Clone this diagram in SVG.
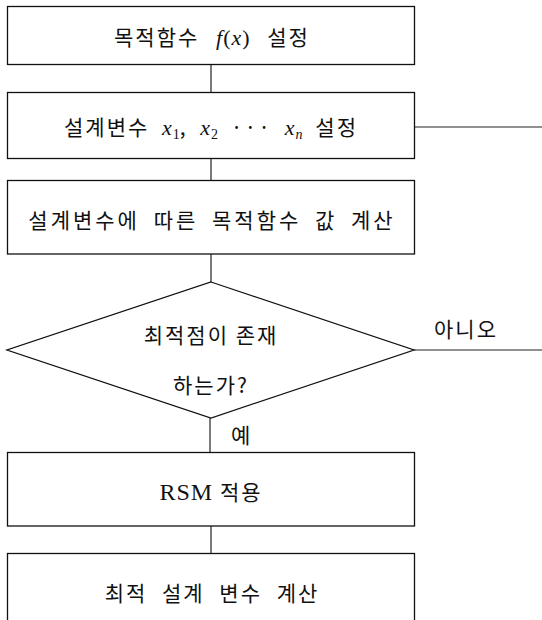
<svg xmlns="http://www.w3.org/2000/svg" width="542" height="620" viewBox="0 0 542 620">
<style>
.box{fill:#fff;stroke:#111;stroke-width:1.3}
.ln{stroke:#222;stroke-width:1.2;fill:none}
.t{font-family:"Noto Sans CJK KR","Noto Sans",sans-serif;font-size:21px;fill:#111;text-anchor:middle;letter-spacing:2px}
.lbl{font-family:"Noto Sans CJK KR","Noto Sans",sans-serif;font-size:21px;fill:#111;letter-spacing:2px}
.m{font-family:"Liberation Serif",serif;font-style:italic;font-size:22px;letter-spacing:1px}
.s{font-family:"Liberation Serif",serif;font-style:normal;font-size:14px;letter-spacing:0}
.r{font-family:"Liberation Serif",serif;font-size:22px;letter-spacing:1px}
</style>
<rect width="542" height="620" fill="#fff"/>
<g id="connectors">
<line class="ln" x1="211" y1="65" x2="211" y2="92"/>
<line class="ln" x1="211" y1="159" x2="211" y2="180"/>
<line class="ln" x1="211" y1="254" x2="211" y2="282"/>
<line class="ln" x1="210" y1="418" x2="210" y2="452"/>
<line class="ln" x1="211" y1="526" x2="211" y2="553"/>
<line class="ln" x1="415" y1="127" x2="542" y2="127"/>
<line class="ln" x1="414" y1="350" x2="542" y2="350"/>
<text class="lbl" x="434" y="337">아니오</text>
<text class="lbl" x="231" y="443">예</text>
</g>
<g id="n1">
<rect class="box" x="7.5" y="6.5" width="407" height="58"/>
<text class="t" x="212" y="45" word-spacing="10">목적함수 <tspan class="m">f</tspan><tspan class="r">(</tspan><tspan class="m">x</tspan><tspan class="r">)</tspan> 설정</text>
</g>
<g id="n2">
<rect class="box" x="7.5" y="92.5" width="407" height="66"/>
<text class="t" x="211" y="135" word-spacing="6">설계변수 <tspan class="m">x</tspan><tspan class="s" dy="4">1</tspan><tspan dy="-4">, </tspan><tspan class="m">x</tspan><tspan class="s" dy="4">2</tspan><tspan dy="-4"> ··· </tspan><tspan class="m">x</tspan><tspan class="s" style="font-style:italic" dy="4">n</tspan><tspan dy="-4"> 설정</tspan></text>
</g>
<g id="n3">
<rect class="box" x="7.5" y="180.5" width="407" height="73.5"/>
<text class="t" x="212" y="228" style="letter-spacing:3px" word-spacing="6">설계변수에 따른 목적함수 값 계산</text>
</g>
<g id="n4">
<polygon class="box" points="211,282 414,350 211,418 7,350"/>
<text class="t" x="211" y="343">최적점이 존재</text>
<text class="t" x="211" y="393">하는가?</text>
</g>
<g id="n5">
<rect class="box" x="7.5" y="452.5" width="407" height="73.5"/>
<text class="t" x="211" y="500"><tspan class="r" style="font-size:24px">RSM</tspan> 적용</text>
</g>
<g id="n6">
<rect class="box" x="7.5" y="553.5" width="407" height="90"/>
<text class="t" x="212" y="601" word-spacing="8">최적 설계 변수 계산</text>
</g>
</svg>
